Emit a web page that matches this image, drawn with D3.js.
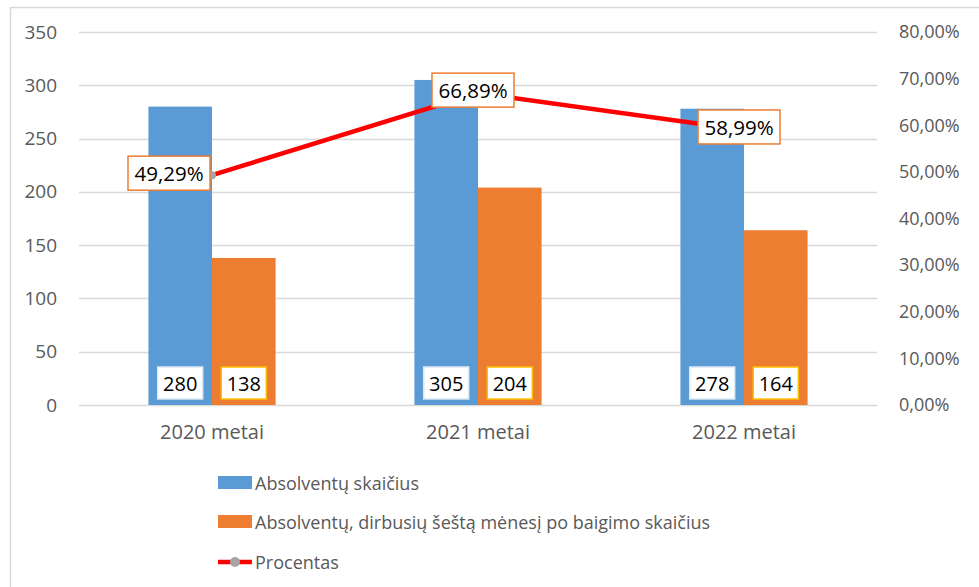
<!DOCTYPE html>
<html>
<head>
<meta charset="utf-8">
<script src="https://cdn.jsdelivr.net/npm/d3@7"></script>
<style>
  body { margin: 0; background: #fff; }
  svg { display: block; font-family: "Open Sans", sans-serif; }
</style>
</head>
<body>
<div id="chart"></div>
<script>
// chart data
const categories = ["2020 metai", "2021 metai", "2022 metai"];
const graduates = [280, 305, 278];
const employed = [138, 204, 164];
const percent = [0.4929, 0.6689, 0.5899];
const leftTicks = [0, 50, 100, 150, 200, 250, 300, 350];
const rightTicks = [0, 0.1, 0.2, 0.3, 0.4, 0.5, 0.6, 0.7, 0.8];
const seriesNames = ["Absolventų skaičius", "Absolventų, dirbusių šeštą mėnesį po baigimo skaičius", "Procentas"];
// where each percent label sits relative to its point
const pctLabelPos = ["left", "center", "center"];

const W = 979, H = 587;
const plot = { left: 79, right: 877, top: 32, bottom: 405 };

const svg = d3.select("#chart").append("svg")
    .attr("width", W)
    .attr("height", H);

// outer chart border (only left and top visible in the crop)
svg.append("rect")
    .attr("x", 10.5).attr("y", 7.5)
    .attr("width", W + 20).attr("height", H + 20)
    .attr("fill", "#fff")
    .attr("stroke", "#d9d9d9")
    .attr("stroke-width", 1.5);

const x = d3.scaleBand().domain(categories).range([plot.left, plot.right]);
const yL = d3.scaleLinear().domain([0, 350]).range([plot.bottom, plot.top]);
const yR = d3.scaleLinear().domain([0, 0.8]).range([plot.bottom, plot.top]);

const fmtPct = d => d3.format(".2f")(d * 100).replace(".", ",") + "%";

// gridlines
svg.append("g").selectAll("line")
    .data(leftTicks)
    .enter().append("line")
    .attr("x1", plot.left).attr("x2", plot.right)
    .attr("y1", d => Math.round(yL(d)) + 0.5)
    .attr("y2", d => Math.round(yL(d)) + 0.5)
    .attr("stroke", "#d9d9d9")
    .attr("stroke-width", 1.3);

// left axis
const axL = svg.append("g")
    .attr("transform", `translate(${plot.left - 22},0)`)
    .call(d3.axisLeft(yL).tickValues(leftTicks).tickSize(0).tickPadding(0));
axL.select(".domain").remove();
axL.selectAll("text").attr("fill", "#595959").style("font-size", "19px")
    .style("font-family", "Open Sans");

// right axis
const axR = svg.append("g")
    .attr("transform", `translate(${plot.right + 22},0)`)
    .call(d3.axisRight(yR).tickValues(rightTicks).tickFormat(fmtPct).tickSize(0).tickPadding(0));
axR.select(".domain").remove();
axR.selectAll("text").attr("fill", "#595959").style("font-size", "18px")
    .style("font-family", "Open Sans");

// bottom axis labels
const axB = svg.append("g")
    .attr("transform", `translate(0,${plot.bottom + 20})`)
    .call(d3.axisBottom(x).tickSize(0).tickPadding(0));
axB.select(".domain").remove();
axB.selectAll("text").attr("fill", "#595959").style("font-size", "20px")
    .style("font-family", "Open Sans");

// bars
const barW = x.bandwidth() * 0.239;
const groups = svg.append("g").selectAll("g")
    .data(categories)
    .enter().append("g")
    .attr("transform", d => `translate(${x(d) + x.bandwidth() / 2},0)`);

groups.append("rect")
    .attr("x", -barW)
    .attr("y", (d, i) => yL(graduates[i]))
    .attr("width", barW)
    .attr("height", (d, i) => yL(0) - yL(graduates[i]))
    .attr("fill", "#5b9bd5");

groups.append("rect")
    .attr("x", 0)
    .attr("y", (d, i) => yL(employed[i]))
    .attr("width", barW)
    .attr("height", (d, i) => yL(0) - yL(employed[i]))
    .attr("fill", "#ed7d31");

// value labels at base of bars
function valueLabel(g, cx, txt, border) {
    const lab = g.append("g").attr("transform", `translate(${cx},${plot.bottom - 22})`);
    lab.append("rect")
        .attr("x", -22.5).attr("y", -16)
        .attr("width", 45).attr("height", 32)
        .attr("fill", "#fff")
        .attr("stroke", border)
        .attr("stroke-width", 1.5);
    lab.append("text")
        .attr("text-anchor", "middle")
        .attr("dominant-baseline", "central")
        .attr("fill", "#000")
        .style("font-size", "20px")
        .text(txt);
}
groups.each(function(d, i) {
    const g = d3.select(this);
    valueLabel(g, -barW / 2, graduates[i], "#dbe8f5");
    valueLabel(g, barW / 2, employed[i], "#ffc000");
});

// percent line
const line = d3.line()
    .x((d, i) => x(categories[i]) + x.bandwidth() / 2)
    .y(d => yR(d));

svg.append("path")
    .datum(percent)
    .attr("d", line)
    .attr("fill", "none")
    .attr("stroke", "#ff0000")
    .attr("stroke-width", 4.5);

svg.append("g").selectAll("circle")
    .data(percent)
    .enter().append("circle")
    .attr("cx", (d, i) => x(categories[i]) + x.bandwidth() / 2)
    .attr("cy", d => yR(d))
    .attr("r", 4)
    .attr("fill", "#a5a5a5");

// percent labels
const pctW = 82, pctH = 34;
const pl = svg.append("g").selectAll("g")
    .data(percent)
    .enter().append("g")
    .attr("transform", (d, i) => {
        const px = x(categories[i]) + x.bandwidth() / 2;
        const py = yR(d);
        const cx = pctLabelPos[i] === "left" ? px - pctW / 2 - 2 : px - 5;
        const cy = pctLabelPos[i] === "left" ? py - 2 : py - 3;
        return `translate(${cx},${cy})`;
    });
pl.append("rect")
    .attr("x", -pctW / 2).attr("y", -pctH / 2)
    .attr("width", pctW).attr("height", pctH)
    .attr("fill", "#fff")
    .attr("stroke", "#ed7d31")
    .attr("stroke-width", 1.5);
pl.append("text")
    .attr("text-anchor", "middle")
    .attr("dominant-baseline", "central")
    .attr("fill", "#000")
    .style("font-size", "20.5px")
    .text(d => fmtPct(d));

// legend
const legend = svg.append("g").attr("transform", "translate(218,0)");
const legY = [483, 522, 562];
const legColors = ["#5b9bd5", "#ed7d31"];
legColors.forEach((c, i) => {
    legend.append("rect")
        .attr("x", 0).attr("y", legY[i] - 7)
        .attr("width", 34).attr("height", 13)
        .attr("fill", c);
});
legend.append("line")
    .attr("x1", 0).attr("x2", 34)
    .attr("y1", legY[2]).attr("y2", legY[2])
    .attr("stroke", "#ff0000").attr("stroke-width", 4.5);
legend.append("circle")
    .attr("cx", 17).attr("cy", legY[2]).attr("r", 5)
    .attr("fill", "#a5a5a5");
legend.selectAll("text.leg")
    .data(seriesNames)
    .enter().append("text")
    .attr("class", "leg")
    .attr("x", 37)
    .attr("y", (d, i) => legY[i])
    .attr("dominant-baseline", "central")
    .attr("fill", "#595959")
    .style("font-size", "18px")
    .text(d => d);
</script>
</body>
</html>
